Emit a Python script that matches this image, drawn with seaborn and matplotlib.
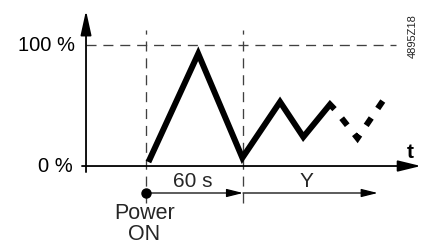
import matplotlib
matplotlib.use("Agg")
import matplotlib.pyplot as plt
import seaborn as sns
import pandas as pd

# ---- data (time in seconds, level in percent) ----
solid_time = [1.5, 32.3, 59.6, 82.9, 97.3, 113.8, 116.6]
solid_level = [3.3, 92.8, 6.8, 53.0, 24.0, 50.9, 47.0]
dashed_time = [116.6, 130.8, 146.6]
dashed_level = [47.0, 23.0, 54.0]
tick_levels = [0, 100]
tick_labels = ["0 %", "100 %"]
power_on_time = 0
delay_time = 60
y_arrow_end = 143.3

sns.set_theme(style="white")
plt.rcParams["font.family"] = ["Liberation Sans", "DejaVu Sans"]

fig = plt.figure(figsize=(4.22, 2.46), dpi=100)
ax = fig.add_axes([0, 0, 1, 1])

dash_grey = "#404040"
# dashed guide lines
ax.plot([-37.1, 154.6], [100, 100], color=dash_grey, lw=0.95, dashes=(7.6, 5.2))
for tv in (power_on_time, delay_time):
    ax.plot([tv, tv], [-30.6, 112.4], color=dash_grey, lw=0.95, dashes=(7.6, 5.2))

# axes with arrows
ax.annotate("", xy=(-37.1, 128.5), xytext=(-37.1, -5.0),
            arrowprops=dict(arrowstyle="-|>,head_length=15,head_width=3.3",
                            mutation_scale=1, lw=1.3, color="black",
                            shrinkA=0, shrinkB=0))
ax.annotate("", xy=(170.0, 0), xytext=(-39.6, 0),
            arrowprops=dict(arrowstyle="-|>,head_length=14,head_width=3.4",
                            mutation_scale=1, lw=1.3, color="black",
                            shrinkA=0, shrinkB=0))

# signal trace
df_solid = pd.DataFrame({"t": solid_time, "v": solid_level})
df_dash = pd.DataFrame({"t": dashed_time, "v": dashed_level})
sns.lineplot(data=df_solid, x="t", y="v", ax=ax, color="black", lw=4.3,
             sort=False, estimator=None, solid_joinstyle="miter",
             solid_capstyle="butt")
sns.lineplot(data=df_dash, x="t", y="v", ax=ax, color="black", lw=4.3,
             sort=False, estimator=None, linestyle=(1.5, (1.5, 1.93)),
             dash_joinstyle="miter", dash_capstyle="butt")
ax.set_xlim(-90.3, 170.7)
ax.set_ylim(-66.1, 137.2)
ax.axis("off")

# tick labels
for lv, lab in zip(tick_levels, tick_labels):
    ax.text(-44.0 if lv == 100 else -45.5, lv, lab, ha="right", va="center",
            fontsize=14.5, color="black")

ax.text(163.5, 11.5, "t", ha="center", va="center", fontsize=15,
        fontweight="bold", color="black")

# time intervals
yt = -22.3
ax.plot([power_on_time], [yt], "o", ms=6.5, color="black")
ax.annotate("", xy=(delay_time, yt), xytext=(power_on_time, yt),
            arrowprops=dict(arrowstyle="-|>,head_length=10,head_width=2.5",
                            mutation_scale=1, lw=0.9, color="black",
                            shrinkA=0, shrinkB=0))
ax.annotate("", xy=(y_arrow_end, yt), xytext=(delay_time, yt),
            arrowprops=dict(arrowstyle="-|>,head_length=10,head_width=2.5",
                            mutation_scale=1, lw=0.9, color="black",
                            shrinkA=0, shrinkB=0))
ax.text(29.1, -12.8, "60 s", ha="center", va="center", fontsize=15)
ax.text(99.4, -13.0, "Y", ha="center", va="center", fontsize=15)
ax.text(-0.6, -39.3, "Power", ha="center", va="center", fontsize=15.5)
ax.text(-1.2, -56.6, "ON", ha="center", va="center", fontsize=15.5)

ax.text(165.2, 107.0, "4895Z18", rotation=90, ha="center", va="center",
        fontsize=8)

fig.savefig("out.png", dpi=100)
